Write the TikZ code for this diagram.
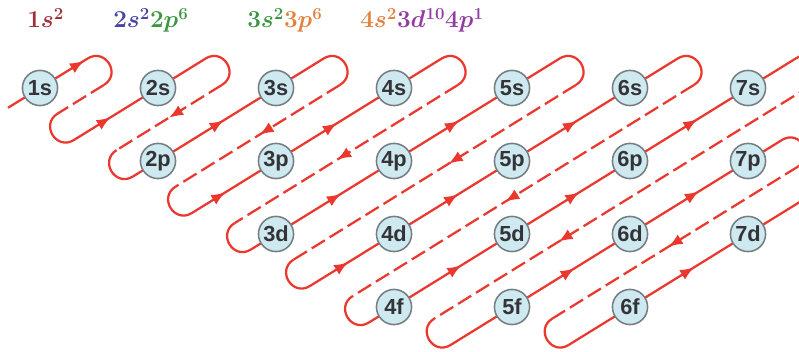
\documentclass[tikz,border=0pt]{standalone}
\usepackage{amsmath, amssymb}
\usepackage{xcolor}
\usepackage{fontspec}
\newfontfamily\orbfont{Liberation Sans}
\usetikzlibrary{arrows.meta}
\definecolor{lineRed}{RGB}{234,56,46}
\definecolor{orbFill}{RGB}{206,234,240}
\definecolor{orbEdge}{RGB}{118,126,130}
\definecolor{orbText}{RGB}{52,52,56}
\definecolor{cRed}{RGB}{160,48,58}
\definecolor{cBlue}{RGB}{72,70,160}
\definecolor{cGreen}{RGB}{62,150,66}
\definecolor{cOrange}{RGB}{226,130,62}
\definecolor{cPurple}{RGB}{146,60,162}

\begin{document}
\begin{tikzpicture}[x=0.025cm, y=-0.025cm,
  orb/.style={circle, draw=orbEdge, fill=orbFill, line width=1.1pt, minimum size=25pt, inner sep=0pt, text=orbText, font=\orbfont\bfseries\fontsize{15.5}{15.5}\selectfont},
  route/.style={draw=lineRed, line width=1.6pt},
  back/.style={route, dash pattern=on 11pt off 4pt},
  tip/.style={draw=lineRed, line width=1.6pt, -{Latex[length=10pt,width=8pt]}},
  conf/.style={anchor=base west, inner sep=0pt, font=\fontsize{16.5}{18}\selectfont\boldmath}]
\useasboundingbox (0,0) rectangle (799,352);
\clip (0,0) rectangle (799,352);
% solid runs, each with its turn at the top and the one at the bottom
\draw[route] (8,107.8) -- (87.685,58.5) .. controls (105.285,47.61) and (121.615,74.01) .. (104.015,84.9);
\draw[route] (57.615,113.6) .. controls (40.015,124.49) and (56.345,150.89) .. (73.945,140) -- (205.685,58.5) .. controls (223.285,47.61) and (239.615,74.01) .. (222.015,84.9);
\draw[route] (116.615,150.1) .. controls (99.015,160.99) and (115.345,187.39) .. (132.945,176.5) -- (323.685,58.5) .. controls (341.285,47.61) and (357.615,74.01) .. (340.015,84.9);
\draw[route] (175.615,186.6) .. controls (158.015,197.49) and (174.345,223.89) .. (191.945,213) -- (441.685,58.5) .. controls (459.285,47.61) and (475.615,74.01) .. (458.015,84.9);
\draw[route] (234.615,223.1) .. controls (217.015,233.99) and (233.345,260.39) .. (250.945,249.5) -- (559.685,58.5) .. controls (577.285,47.61) and (593.615,74.01) .. (576.015,84.9);
\draw[route] (293.615,259.6) .. controls (276.015,270.49) and (292.345,296.89) .. (309.945,286) -- (677.685,58.5) .. controls (695.285,47.61) and (711.615,74.01) .. (694.015,84.9);
\draw[route] (352.615,296.1) .. controls (335.015,306.99) and (351.345,333.39) .. (368.945,322.5) -- (795.685,58.5) .. controls (813.285,47.61) and (829.615,74.01) .. (812.015,84.9);
\draw[route] (434.245,318.6) .. controls (416.645,329.49) and (432.975,355.89) .. (450.575,345) -- (781.945,140) .. controls (799.545,129.11) and (815.875,155.51) .. (798.275,166.4);
\draw[route] (552.245,318.6) .. controls (534.645,329.49) and (550.975,355.89) .. (568.575,345) -- (830,183.27);
% dashed runs back down
\draw[back] (104.015,84.9) -- (57.615,113.6);
\draw[back] (222.015,84.9) -- (116.615,150.1);
\draw[back] (340.015,84.9) -- (175.615,186.6);
\draw[back] (458.015,84.9) -- (234.615,223.1);
\draw[back] (576.015,84.9) -- (293.615,259.6);
\draw[back] (694.015,84.9) -- (352.615,296.1);
\draw[back] (812.015,84.9) -- (434.245,318.6);
\draw[back] (798.275,166.4) -- (552.245,318.6);
% arrow heads
\draw[tip] (72.05,68.18) -- (83.95,60.82);
\draw[tip] (98.75,124.68) -- (110.65,117.32);
\draw[tip] (211.85,127.68) -- (223.75,120.32);
\draw[tip] (213.45,199.68) -- (225.35,192.32);
\draw[tip] (325.05,130.68) -- (336.95,123.32);
\draw[tip] (329.05,201.18) -- (340.95,193.82);
\draw[tip] (447.05,128.18) -- (458.95,120.82);
\draw[tip] (336.35,269.68) -- (348.25,262.32);
\draw[tip] (446.25,201.68) -- (458.15,194.32);
\draw[tip] (565.05,128.18) -- (576.95,120.82);
\draw[tip] (449.45,272.68) -- (461.35,265.32);
\draw[tip] (567.45,199.68) -- (579.35,192.32);
\draw[tip] (685.45,126.68) -- (697.35,119.32);
\draw[tip] (562.65,275.68) -- (574.55,268.32);
\draw[tip] (687.05,198.68) -- (698.95,191.32);
\draw[tip] (682.25,274.68) -- (694.15,267.32);
\draw[tip] (180.95,110.32) -- (169.05,117.68);
\draw[tip] (271.45,127.32) -- (259.55,134.68);
\draw[tip] (349.05,152.32) -- (337.15,159.68);
\draw[tip] (460.55,156.32) -- (448.65,163.68);
\draw[tip] (517.15,194.32) -- (505.25,201.68);
\draw[tip] (570.45,234.32) -- (558.55,241.68);
\draw[tip] (680.45,239.32) -- (668.55,246.68);
% orbitals
\node[orb] (s1) at (40,88) {1s};
\node[orb] (s2) at (158,88) {2s};
\node[orb] (p2) at (158,161) {2p};
\node[orb] (s3) at (276,88) {3s};
\node[orb] (p3) at (276,161) {3p};
\node[orb] (d3) at (276,234) {3d};
\node[orb] (s4) at (394,88) {4s};
\node[orb] (p4) at (394,161) {4p};
\node[orb] (d4) at (394,234) {4d};
\node[orb] (f4) at (394,307) {4f};
\node[orb] (s5) at (512,88) {5s};
\node[orb] (p5) at (512,161) {5p};
\node[orb] (d5) at (512,234) {5d};
\node[orb] (f5) at (512,307) {5f};
\node[orb] (s6) at (630,88) {6s};
\node[orb] (p6) at (630,161) {6p};
\node[orb] (d6) at (630,234) {6d};
\node[orb] (f6) at (630,307) {6f};
\node[orb] (s7) at (748,88) {7s};
\node[orb] (p7) at (748,161) {7p};
\node[orb] (d7) at (748,234) {7d};
% filling order along the top
\node[conf] (cfg1) at (27,28) {$\color{cRed}1s^2$};
\node[conf] (cfg2) at (113,28) {$\color{cBlue}2s^2\color{cGreen}2p^6$};
\node[conf] (cfg3) at (247,28) {$\color{cGreen}3s^2\color{cOrange}3p^6$};
\node[conf] (cfg4) at (360,28) {$\color{cOrange}4s^2\color{cPurple}3d^{10}4p^1$};
\end{tikzpicture}
\end{document}
